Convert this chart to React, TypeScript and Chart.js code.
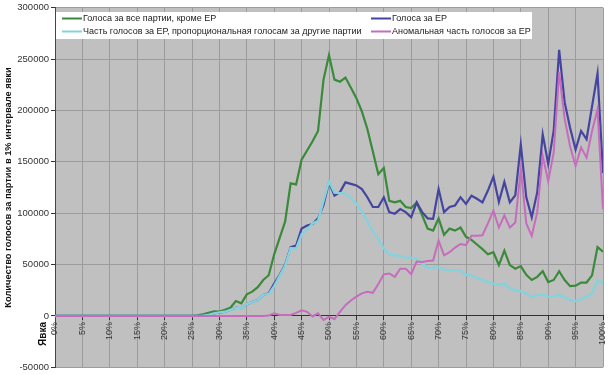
import React, { useEffect, useRef } from "react";
import { Chart, registerables } from "chart.js";

Chart.register(...registerables);

// Turnout percent is the index (0% .. 100%, 1% step)
const xTickStep = 5;
const yMin = -50000;
const yMax = 300000;
const yStep = 50000;

const seriesNames = [
  "Голоса за все партии, кроме ЕР",
  "Голоса за ЕР",
  "Часть голосов за ЕР, пропорциональная голосам за другие партии",
  "Аномальная часть голосов за ЕР",
];
const yTitle = "Количество голосов за партии в 1% интервале явки";
const xTitle = "Явка";

const otherParties = [
  0, 0, 0, 0, 0, 0, 0, 0, 0, 0,
  0, 0, 0, 0, 0, 0, 0, 0, 0, 0,
  0, 0, 0, 0, 0, 0, 500, 1500, 3000, 4500,
  4300, 6000, 8000, 14500, 12300, 21000, 23600, 28000, 35000, 39600,
  60000, 76000, 92000, 129000, 128000, 152000, 161000, 170000, 180000, 230000,
  254000, 230000, 228000, 232000, 222000, 212000, 199000, 182000, 160000, 138000,
  144000, 112000, 110500, 112000, 106000, 105000, 110500, 98000, 85000, 83000,
  95000, 79000, 85000, 83000, 86000, 77000, 74000, 69500, 65000, 60000,
  62000, 49500, 63500, 49500, 46000, 48500, 40000, 35000, 38000, 43500,
  33000, 35000, 43500, 35000, 29000, 29500, 32500, 32500, 39500, 67000,
  62500,
];

const unitedRussia = [
  0, 0, 0, 0, 0, 0, 0, 0, 0, 0,
  0, 0, 0, 0, 0, 0, 0, 0, 0, 0,
  0, 0, 0, 0, 0, 0, 0, 300, 1000, 2500,
  3500, 4000, 6000, 8000, 7500, 11500, 13500, 15500, 20500, 22000,
  31500, 40000, 50000, 67000, 68500, 85000, 88000, 89500, 95000, 108000,
  130000, 117000, 120500, 130000, 128500, 127000, 123500, 115500, 106000, 106000,
  115500, 101000, 99500, 104000, 101000, 96000, 110500, 101000, 95000, 94500,
  123500, 101000, 106000, 107500, 115500, 109000, 117000, 114000, 110500, 122000,
  135500, 111000, 130500, 110500, 117500, 167000, 115500, 96000, 120500, 176700,
  148000, 180000, 259000, 208000, 183000, 162000, 180000, 172000, 204000, 236000,
  139000,
];

const proportionalPart = [
  0, 0, 0, 0, 0, 0, 0, 0, 0, 0,
  0, 0, 0, 0, 0, 0, 0, 0, 0, 0,
  0, 0, 0, 0, 0, 0, 0, 300, 1000, 2500,
  3500, 4000, 6000, 8000, 7500, 11500, 13500, 15500, 20500, 21500,
  29000, 39000, 49000, 66000, 65500, 79500, 84000, 90000, 92500, 112000,
  131000, 120000, 119500, 119500, 114500, 109000, 101500, 92000, 82000, 75000,
  65500, 59500, 59000, 58400, 57000, 56500, 56000, 51000, 46500, 47000,
  47500, 45000, 44500, 44500, 44000, 40000, 39500, 37000, 35000, 33000,
  31500, 30000, 31600, 27000, 25000, 24000, 22000, 18800, 20000, 21000,
  18800, 19000, 20300, 18000, 15500, 14500, 16000, 18800, 22000, 34800,
  31600,
];

const anomalousPart = [
  0, 0, 0, 0, 0, 0, 0, 0, 0, 0,
  0, 0, 0, 0, 0, 0, 0, 0, 0, 0,
  0, 0, 0, 0, 0, 0, 0, 0, 0, 0,
  0, 0, 0, 0, 0, 0, 0, 0, 0, 500,
  2500, 1000, 1000, 1000, 3000, 5500, 4000, -500, 2500, -4000,
  -1000, -3000, 4000, 10500, 15000, 18800, 22000, 23500, 22500, 31000,
  40500, 41300, 38100, 46000, 46000, 40500, 53000, 52600, 53500, 54000,
  73500, 59000, 62000, 66500, 70000, 69000, 78000, 78000, 78500, 90000,
  102500, 86000, 98000, 86000, 91000, 143000, 90000, 78000, 101000, 155700,
  131000, 159000, 237000, 192000, 165000, 146000, 164000, 154000, 180000, 201000,
  104000,
];

const colors = ["#3b8a3b", "#4545a0", "#85d2dc", "#c76cbd"];
const FONT = "'Liberation Sans', Arial, sans-serif";

const toPoints = (arr: number[]) => arr.map((v, i) => ({ x: i, y: v }));

const decorPlugin = {
  id: "decor",
  beforeDraw(chart: any) {
    const { ctx, chartArea: a } = chart;
    ctx.save();
    ctx.fillStyle = "#c0c0c0";
    ctx.fillRect(a.left, a.top, a.right - a.left, a.bottom - a.top);
    ctx.restore();
  },
  afterDatasetsDraw(chart: any) {
    const { ctx, chartArea: a } = chart;
    ctx.save();
    // legend box
    const bx = a.left + 1;
    const by = 12;
    const bw = 532 - bx;
    const bh = 27;
    ctx.fillStyle = "#ffffff";
    ctx.fillRect(bx, by, bw, bh);
    ctx.font = `9px ${FONT}`;
    ctx.textBaseline = "middle";
    ctx.textAlign = "left";
    const cols = [62, 371];
    const rows = [18, 31];
    [0, 1, 2, 3].forEach((si, k) => {
      const cx = cols[k % 2];
      const cy = rows[Math.floor(k / 2)];
      ctx.strokeStyle = colors[si];
      ctx.lineWidth = 2;
      ctx.beginPath();
      ctx.moveTo(cx, cy + 0.5);
      ctx.lineTo(cx + 20, cy + 0.5);
      ctx.stroke();
      ctx.fillStyle = "#222";
      ctx.fillText(seriesNames[si], cx + 21, cy + 1);
    });
    // x-axis title "Явка"
    const y0 = chart.scales.y.getPixelForValue(0);
    ctx.translate(43, y0 + 18);
    ctx.rotate(-Math.PI / 2);
    ctx.font = `bold 10px ${FONT}`;
    ctx.fillStyle = "#111";
    ctx.textAlign = "center";
    ctx.textBaseline = "middle";
    ctx.fillText(xTitle, 0, 0);
    ctx.restore();
  },
};

export default function App() {
  const ref = useRef<HTMLCanvasElement | null>(null);
  useEffect(() => {
    if (!ref.current) return;
    const mk = (i: number, data: number[], width: number, order: number) => ({
      label: seriesNames[i],
      data: toPoints(data),
      borderColor: colors[i],
      backgroundColor: colors[i],
      borderWidth: width,
      pointRadius: 0,
      tension: 0,
      fill: false,
      order,
    });
    const chart = new Chart(ref.current, {
      type: "line",
      data: {
        datasets: [
          mk(0, otherParties, 2.2, 4),
          mk(1, unitedRussia, 2.2, 3),
          mk(2, proportionalPart, 2.4, 2),
          mk(3, anomalousPart, 2, 1),
        ],
      },
      options: {
        animation: false,
        responsive: true,
        maintainAspectRatio: false,
        layout: { padding: { top: 7, right: 6, bottom: 4, left: 0 } },
        plugins: { legend: { display: false }, tooltip: { enabled: false } },
        scales: {
          x: {
            type: "linear",
            min: 0,
            max: 100,
            position: { y: 0 } as any,
            afterFit: (s: any) => {
              s.paddingRight = 0;
              s.paddingLeft = 0;
            },
            grid: {
              color: "#9c9c9c",
              lineWidth: 1,
              tickLength: 4,
              tickColor: "#333",
            },
            border: { display: true, color: "#333", width: 1 },
            ticks: {
              stepSize: xTickStep,
              minRotation: 90,
              maxRotation: 90,
              autoSkip: false,
              padding: 2,
              color: "#333",
              font: { family: FONT, size: 9 },
              callback: (v: any) => `${v}%`,
            },
          },
          y: {
            type: "linear",
            min: yMin,
            max: yMax,
            afterFit: (s: any) => {
              s.width = 55;
            },
            grid: {
              color: "#9c9c9c",
              lineWidth: 1,
              tickLength: 4,
              tickColor: "#333",
            },
            border: { display: true, color: "#444", width: 1 },
            ticks: {
              stepSize: yStep,
              padding: 2,
              color: "#333",
              font: { family: FONT, size: 9.5 },
              callback: (v: any) => `${v}`,
            },
            title: {
              display: true,
              text: yTitle,
              color: "#111",
              font: { family: FONT, size: 9.3, weight: "bold" },
              padding: { top: 3, bottom: 0 },
            },
          },
        },
      },
      plugins: [decorPlugin],
    });
    return () => chart.destroy();
  }, []);
  return (
    <div style={{ position: "absolute", left: 0, top: 0, width: 609, height: 375, background: "#fff" }}>
      <canvas ref={ref} />
    </div>
  );
}
